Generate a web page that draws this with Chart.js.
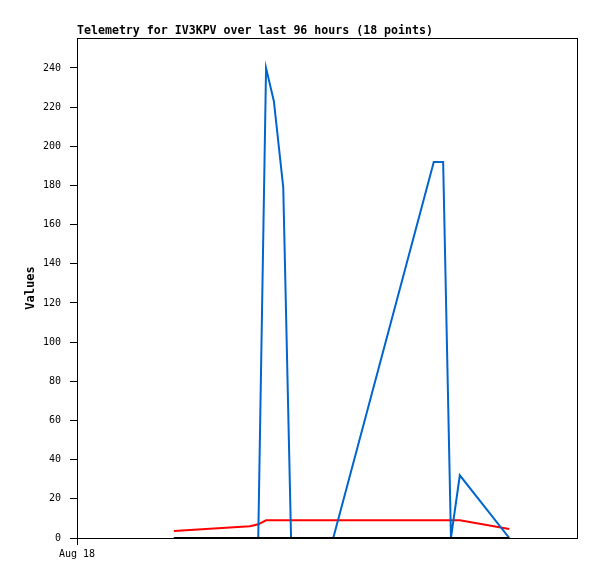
<!DOCTYPE html>
<html>
<head>
<meta charset="utf-8">
<script src="https://cdn.jsdelivr.net/npm/chart.js@4/dist/chart.umd.min.js"></script>
<style>
  html, body { margin: 0; padding: 0; background: #fff; }
  #wrap { width: 597px; height: 579px; }
</style>
</head>
<body>
<div id="wrap"><canvas id="telemetry"></canvas></div>
<script>
// hours since Aug 18 00:00 (96 hour window)
const hours = [18.6, 33.2, 34.8, 36.3, 37.8, 39.6, 41.1, 49.2, 68.5, 70.3, 71.8, 73.5, 83.0];
const redValues = [3.6, 6.0, 7.0, 9.0, 9.0, 9.0, 9.0, 9.0, 9.0, 9.0, 9.0, 9.0, 4.6];
const blueValues = [0, 0, 0, 240, 223, 179, 0, 0, 192, 192, 0, 32, 0];
const blackValues = [0, 0, 0, 0, 0, 0, 0, 0, 0, 0, 0, 0, 0];
const xTickLabels = ["Aug 18"];
const titleText = "Telemetry for IV3KPV over last 96 hours (18 points)";

const toXY = vals => vals.map((v, i) => ({ x: hours[i], y: v }));
const mono = "'DejaVu Sans Mono', monospace";

// Title, axis label and frame
const frame = {
  id: "frame",
  afterDraw(chart) {
    const { ctx, chartArea: a } = chart;
    ctx.save();
    ctx.strokeStyle = "#000";
    ctx.lineWidth = 1;
    ctx.strokeRect(a.left + 0.5, a.top + 0.5, a.right - a.left, a.bottom - a.top);
    ctx.fillStyle = "#000";
    ctx.font = "bold 11.6px " + mono;
    ctx.textBaseline = "middle";
    ctx.textAlign = "left";
    ctx.fillText(titleText, a.left, 31);
    ctx.translate(31, (a.top + a.bottom) / 2);
    ctx.rotate(-Math.PI / 2);
    ctx.textAlign = "center";
    ctx.font = "bold 12px " + mono;
    ctx.fillText("Values", 0, 0);
    ctx.restore();
  }
};

new Chart(document.getElementById("telemetry"), {
  type: "line",
  data: {
    datasets: [
      { data: toXY(blackValues), borderColor: "#000000", borderWidth: 2, order: 0 },
      { data: toXY(blueValues), borderColor: "#0066cc", borderWidth: 2, order: 1 },
      { data: toXY(redValues), borderColor: "#ff0000", borderWidth: 2, order: 2 }
    ]
  },
  options: {
    responsive: true,
    maintainAspectRatio: false,
    animation: false,
    layout: { padding: { top: 38, right: 20, left: 0, bottom: 0 } },
    elements: { point: { radius: 0 }, line: { tension: 0 } },
    plugins: { legend: { display: false }, tooltip: { enabled: false }, title: { display: false } },
    scales: {
      x: {
        type: "linear",
        min: 0,
        max: 96,
        afterFit: s => { s.height = 41; },
        afterBuildTicks: s => { s.ticks = [{ value: 0 }]; },
        grid: { drawOnChartArea: false, tickLength: 7, color: "#000" },
        border: { display: true, color: "#000" },
        ticks: {
          font: { family: mono, size: 10 },
          color: "#000",
          padding: 3,
          maxRotation: 0,
          callback: (v, i) => xTickLabels[i]
        }
      },
      y: {
        min: 0,
        max: 255.3,
        afterFit: s => { s.width = 77; },
        grid: { drawOnChartArea: false, tickLength: 7, color: "#000" },
        border: { display: true, color: "#000" },
        ticks: {
          stepSize: 20,
          includeBounds: false,
          font: { family: mono, size: 10 },
          color: "#000",
          padding: 9
        }
      }
    }
  },
  plugins: [frame]
});
</script>
</body>
</html>
